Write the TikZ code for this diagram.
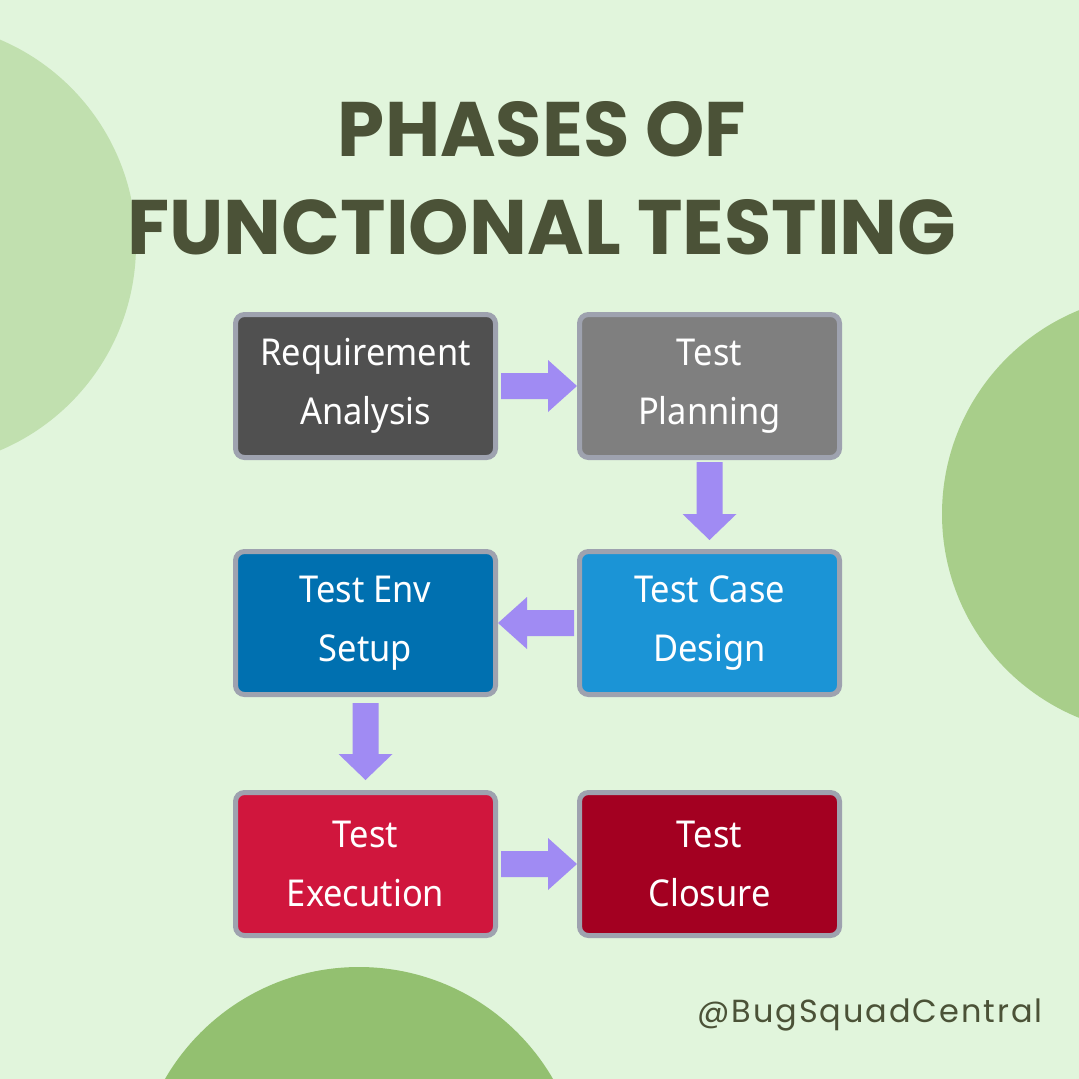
\documentclass[tikz,border=0pt]{standalone}
\usepackage{fontspec}
\setmainfont{Noto Sans}[FakeStretch=0.93]
\newfontfamily\titlefont{Poppins}
\newfontfamily\handlefont{Poppins}[LetterSpace=6]
\usetikzlibrary{calc}
\definecolor{bgc}{HTML}{E1F5DC}
\definecolor{circA}{HTML}{C1E0AF}
\definecolor{circB}{HTML}{A8CE8A}
\definecolor{circC}{HTML}{93C070}
\definecolor{titlec}{HTML}{4B5237}
\definecolor{borderc}{HTML}{9EA2AF}
\definecolor{arrowc}{HTML}{A08BF3}
\definecolor{cReq}{HTML}{505050}
\definecolor{cPlan}{HTML}{7F7F7F}
\definecolor{cEnv}{HTML}{0070B0}
\definecolor{cDesign}{HTML}{1B94D6}
\definecolor{cExec}{HTML}{D0163D}
\definecolor{cClose}{HTML}{A30021}
\tikzset{
  phase/.style={draw=borderc, line width=5pt, rounded corners=9pt,
    minimum width=260pt, minimum height=143pt, inner sep=0pt,
    text=white, align=center, font=\fontsize{37}{59}\selectfont},
}
% horizontal block arrow: #1 start, #2 tip, #3 direction (+1 right, -1 left)
\newcommand\harrow[3]{%
  \fill[arrowc] let \p1=(#1), \p2=(#2) in
    (\x1,\y1+13pt) -- (\x2-#3*29pt,\y1+13pt) -- (\x2-#3*29pt,\y1+26pt) --
    (\x2,\y1) -- (\x2-#3*29pt,\y1-26pt) -- (\x2-#3*29pt,\y1-13pt) --
    (\x1,\y1-13pt) -- cycle;}
% downward block arrow: #1 start, #2 tip
\newcommand\varrow[2]{%
  \fill[arrowc] let \p1=(#1), \p2=(#2) in
    (\x1-13pt,\y1) -- (\x1-13pt,\y2+26pt) -- (\x1-27pt,\y2+26pt) --
    (\x1,\y2) -- (\x1+27pt,\y2+26pt) -- (\x1+13pt,\y2+26pt) --
    (\x1+13pt,\y1) -- cycle;}
\begin{document}
\begin{tikzpicture}[x=1pt,y=-1pt]
\useasboundingbox (0,0) rectangle (1079,1079);
\fill[bgc] (0,0) rectangle (1079,1079);
\begin{scope}
  \clip (0,0) rectangle (1079,1079);
  \fill[circA] (-87,245) circle[radius=223pt];
  \fill[circB] (1162,514) circle[radius=220pt];
  \fill[circC] (359,1191) circle[radius=224pt];
\end{scope}
% title
\node[anchor=base, inner sep=0pt, text=titlec] (t1) at (542,156)
  {\resizebox{408pt}{55pt}{\titlefont\bfseries PHASES OF}};
\node[anchor=base, inner sep=0pt, text=titlec] (t2) at (542,254)
  {\resizebox{829pt}{55pt}{\titlefont\bfseries FUNCTIONAL TESTING}};
% phase boxes
\node[phase, fill=cReq]    (req)    at (365.5,386) {Requirement\\Analysis};
\node[phase, fill=cPlan]   (plan)   at (709.5,386) {Test\\Planning};
\node[phase, fill=cEnv]    (env)    at (365.5,623) {Test Env\\Setup};
\node[phase, fill=cDesign] (design) at (709.5,623) {Test Case\\Design};
\node[phase, fill=cExec]   (exec)   at (365.5,864) {Test\\Execution};
\node[phase, fill=cClose]  (close)  at (709.5,864) {Test\\Closure};
% arrows
\harrow{$(req.east)+(3,0)$}{plan.west}{1}
\varrow{$(plan.south)+(0,2)$}{$(design.north)+(0,-9)$}
\harrow{$(design.west)+(-3,0)$}{env.east}{-1}
\varrow{$(env.south)+(0,6)$}{$(exec.north)+(0,-10)$}
\harrow{$(exec.east)+(3,0)$}{close.west}{1}
% handle
\node[anchor=base, inner sep=0pt, text=titlec] (handle) at (870,1022)
  {\resizebox{345pt}{!}{\fontsize{30}{30}\handlefont @BugSquadCentral}};
\end{tikzpicture}
\end{document}
